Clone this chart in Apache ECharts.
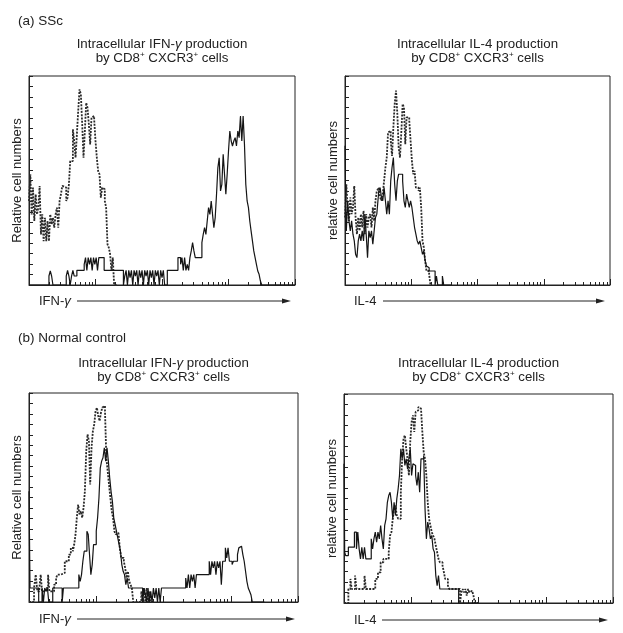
<!DOCTYPE html>
<html><head><meta charset="utf-8">
<script src="https://cdn.jsdelivr.net/npm/echarts@6/dist/echarts.min.js"></script>
<style>html,body{margin:0;padding:0;background:#fff}#c{width:623px;height:633px}</style>
</head><body><div id="c"></div>
<script>
// ---- text ----
const panelLabels = ['(a) SSc', '(b) Normal control'];
const titleIfn = 'Intracellular IFN-{g|γ} production\nby CD8{s|+} CXCR3{s|+} cells';
const titleIl4 = 'Intracellular IL-4 production\nby CD8{s|+} CXCR3{s|+} cells';
const yNames = ['Relative cell numbers', 'relative cell numbers'];
const xNames = ['IFN-{g|γ}', 'IL-4'];

// ---- data: [log10 fluorescence (decades), relative cell number %] ----
const sscIfnControl = [[0,40.2],[0.02,53],[0.04,33.8],[0.06,46.6],[0.08,30.6],[0.10,43.4],[0.12,33.8],[0.14,37],[0.16,47.4],[0.18,24.2],[0.20,33.8],[0.22,21],[0.24,32.2],[0.26,21],[0.28,30.6],[0.30,21],[0.32,33.8],[0.34,29],[0.36,32.2],[0.38,27.4],[0.40,33.8],[0.42,37],[0.44,27.4],[0.46,40.2],[0.48,43.4],[0.50,47.4],[0.53,46.6],[0.56,40.2],[0.58,41.8],[0.60,48.2],[0.62,59.3],[0.64,59.3],[0.66,74.5],[0.68,68.9],[0.70,60.9],[0.72,72.1],[0.74,83.3],[0.76,93.6],[0.78,91.2],[0.80,76.9],[0.82,60.9],[0.84,73.7],[0.86,87.2],[0.88,84.8],[0.90,76.9],[0.92,67.3],[0.94,80.1],[0.96,80.9],[0.98,79.3],[1.00,68.9],[1.02,60.9],[1.04,54.5],[1.06,53],[1.08,41.8],[1.10,46.6],[1.12,45.8],[1.14,40.2],[1.16,37],[1.18,19.5],[1.20,17.9],[1.22,14.7],[1.24,6.7],[1.26,13.1],[1.28,0],[1.32,0]];
const sscIfnSample = [[0,0],[0.30,4.3],[0.32,6.7],[0.34,4.3],[0.36,0],[0.56,4.3],[0.58,7],[0.60,4.3],[0.62,0],[0.64,4.3],[0.66,7],[0.68,4.3],[0.72,7],[0.83,9.9],[0.85,13.1],[0.87,7],[0.89,13.1],[0.91,9.9],[0.93,13.1],[0.95,7],[0.97,13.1],[0.99,9.9],[1.01,13.1],[1.03,7],[1.05,13.1],[1.13,7],[1.42,0],[1.44,4.3],[1.46,7],[1.48,0],[1.50,7],[1.52,3.5],[1.54,7],[1.56,0],[1.58,7],[1.60,4.3],[1.62,7],[1.64,0],[1.66,7],[1.68,3.5],[1.70,7],[1.72,0],[1.74,7],[1.76,4.3],[1.78,7],[1.80,0],[1.82,7],[1.84,3.5],[1.86,7],[1.88,0],[1.90,7],[1.92,4.3],[1.94,7],[1.96,0],[1.98,7],[2.00,3.5],[2.02,7],[2.04,0],[2.08,7],[2.24,13.1],[2.28,9.9],[2.30,13.1],[2.32,7],[2.34,13.1],[2.36,7],[2.38,9.9],[2.40,7],[2.42,13.1],[2.44,16.3],[2.46,20.3],[2.48,16.3],[2.50,13.1],[2.60,20.3],[2.62,24.2],[2.64,27.4],[2.66,24.2],[2.68,30.6],[2.70,37],[2.72,33.8],[2.74,40.2],[2.76,33.8],[2.78,27.4],[2.80,32.2],[2.82,43.4],[2.84,56.1],[2.86,60.9],[2.88,45],[2.90,48.2],[2.92,62.5],[2.94,53],[2.96,43.4],[2.98,53],[3.00,64.1],[3.02,73.7],[3.04,68.9],[3.06,66.5],[3.08,68.9],[3.10,70.5],[3.12,66.5],[3.14,73.7],[3.16,70.5],[3.18,80.9],[3.20,68.9],[3.22,80.9],[3.24,67.3],[3.26,48.2],[3.28,40.2],[3.30,37],[3.32,30.6],[3.34,25.8],[3.36,21.1],[3.38,16.3],[3.40,13.1],[3.42,9.9],[3.44,6.7],[3.46,5.1],[3.48,1.9],[3.50,0],[4,0]];
const sscIl4Control = [[0,32.3],[0.02,48.2],[0.04,37.1],[0.06,30.7],[0.08,41.9],[0.10,33.9],[0.12,37.1],[0.14,47.4],[0.16,32.3],[0.18,24.3],[0.20,32.3],[0.22,25.9],[0.24,33.9],[0.26,27.5],[0.28,35.5],[0.30,24.3],[0.32,33.9],[0.34,27.5],[0.36,32.3],[0.38,33.9],[0.40,27.5],[0.42,37.1],[0.44,30.7],[0.46,40.3],[0.48,45],[0.51,46.6],[0.53,41.9],[0.55,40.3],[0.57,43.5],[0.59,49.8],[0.61,56.2],[0.63,61],[0.65,73],[0.67,73.8],[0.69,69],[0.71,61.8],[0.73,75.4],[0.75,86.6],[0.77,93],[0.79,81.8],[0.81,65.8],[0.83,61],[0.85,73],[0.87,86.6],[0.89,85],[0.91,67.4],[0.93,80.2],[0.95,80.2],[0.97,78.6],[0.99,69],[1.01,59.4],[1.03,53],[1.05,54.6],[1.07,46.6],[1.09,46.6],[1.11,45],[1.13,46.6],[1.15,37.1],[1.17,21.1],[1.19,17.9],[1.21,11.5],[1.23,6.7],[1.25,6.7],[1.27,5.1],[1.29,0],[1.31,0]];
const sscIl4Sample = [[0,66.6],[0.01,37.1],[0.02,25.9],[0.04,40.3],[0.06,30.7],[0.08,25.9],[0.10,30.7],[0.12,24.3],[0.14,21.1],[0.16,14.7],[0.18,13.1],[0.20,21.1],[0.22,24.3],[0.24,21.1],[0.26,25.9],[0.28,21.1],[0.30,33.9],[0.32,24.3],[0.34,13.1],[0.36,25.9],[0.38,22.7],[0.40,25.9],[0.42,19.5],[0.44,25.9],[0.46,32.3],[0.48,33.9],[0.51,45],[0.53,46.6],[0.55,41.9],[0.57,40.3],[0.59,46.6],[0.61,40.3],[0.63,33.9],[0.65,40.3],[0.67,33.9],[0.69,49.8],[0.71,56.2],[0.73,61],[0.75,48.2],[0.77,40.3],[0.79,49.8],[0.81,53],[0.87,49.8],[0.89,40.3],[0.91,37.1],[0.93,43.5],[0.95,40.3],[0.97,37.1],[0.99,40.3],[1.01,37.1],[1.03,32.3],[1.05,27.5],[1.07,24.3],[1.09,21.1],[1.11,19.5],[1.13,21.1],[1.15,17.9],[1.17,14.7],[1.19,16.3],[1.21,11.5],[1.23,9.1],[1.25,8.3],[1.27,6.7],[1.36,0],[1.38,4.3],[1.40,0],[1.47,4.3],[1.49,0],[1.6,0]];
const ncIfnControl = [[0,0],[0.075,6.7],[0.10,13.1],[0.124,5.1],[0.154,6.7],[0.174,13.1],[0.194,5.1],[0.254,6.7],[0.284,13.1],[0.303,5.1],[0.373,8.3],[0.403,11.5],[0.423,13.1],[0.473,13.9],[0.532,19.5],[0.592,22.7],[0.622,25.9],[0.652,24.3],[0.672,27.5],[0.692,32.3],[0.711,40.3],[0.731,46.6],[0.751,41.9],[0.771,43.5],[0.791,40.3],[0.811,45],[0.831,53],[0.851,72.2],[0.871,80.2],[0.891,77],[0.910,56.2],[0.930,73.8],[0.950,81.8],[0.970,85],[0.990,91.4],[1.01,93],[1.03,89],[1.05,86.6],[1.07,90.6],[1.09,93],[1.11,93.8],[1.13,91.4],[1.15,69],[1.17,62.6],[1.19,56.2],[1.21,49.8],[1.23,43.5],[1.25,40.3],[1.27,33.9],[1.29,32.3],[1.31,33.1],[1.33,32.3],[1.35,25.9],[1.37,21.1],[1.39,21.1],[1.41,19.5],[1.43,16.3],[1.45,11.5],[1.47,14.7],[1.49,9.9],[1.51,8.3],[1.53,6.7],[1.55,0],[1.67,5.1],[1.69,0],[1.71,6.7],[1.73,0],[1.75,6.7],[1.77,0],[1.79,5.1],[1.81,0],[1.85,0]];
const ncIfnSample = [[0,53],[0.015,6.7],[0.144,0],[0.194,6.7],[0.214,0],[0.234,6.7],[0.254,5.1],[0.274,6.7],[0.294,0],[0.353,6.7],[0.493,0],[0.512,6.7],[0.741,13.1],[0.761,9.9],[0.781,13.1],[0.801,19.5],[0.821,24.3],[0.861,33.9],[0.881,32.3],[0.900,22.7],[0.920,13.1],[0.940,17.9],[0.960,27.5],[1.00,33.9],[1.02,40.3],[1.04,49.8],[1.06,64.2],[1.08,67.4],[1.10,69],[1.12,73.8],[1.14,67.4],[1.16,73.8],[1.18,67.4],[1.20,59.4],[1.22,53],[1.24,48.2],[1.26,40.3],[1.28,37.1],[1.30,33.9],[1.32,30.7],[1.34,27.5],[1.36,24.3],[1.38,17.9],[1.40,14.7],[1.42,13.1],[1.44,8.3],[1.46,11.5],[1.48,6.7],[1.69,0],[1.71,6.7],[1.73,3.5],[1.75,0],[1.77,6.7],[1.79,0],[1.81,5.1],[1.83,0],[1.85,6.7],[1.87,1.9],[1.89,6.7],[1.91,0],[1.93,6.7],[1.95,0],[1.97,6.7],[2.33,11.5],[2.35,6.7],[2.37,13.1],[2.39,6.7],[2.41,13.1],[2.43,9.9],[2.45,13.1],[2.47,6.7],[2.49,13.1],[2.68,19.5],[2.70,13.1],[2.72,19.5],[2.74,16.3],[2.76,19.5],[2.78,13.1],[2.80,19.5],[2.82,16.3],[2.84,19.5],[2.86,8.3],[2.88,19.5],[2.92,25.9],[2.94,21.1],[2.96,25.9],[2.98,19.5],[3.02,17.9],[3.04,19.5],[3.10,22.7],[3.12,25.9],[3.14,26.7],[3.16,25.9],[3.18,22.7],[3.20,19.5],[3.22,14.7],[3.24,9.9],[3.26,6.7],[3.28,5.1],[3.30,3.5],[3.32,0],[3.5,0]];
const ncIl4Control = [[0,0],[0.065,6.7],[0.095,11.5],[0.115,6.7],[0.165,13.1],[0.185,6.7],[0.305,13.1],[0.325,6.7],[0.465,11.5],[0.505,14.7],[0.545,19.5],[0.585,21.1],[0.665,24.3],[0.685,32.3],[0.705,33.9],[0.725,40.3],[0.745,45],[0.765,46.6],[0.785,41.9],[0.805,40.3],[0.845,53],[0.865,69],[0.885,78.6],[0.905,80.2],[0.925,73.8],[0.945,69],[0.965,61],[0.985,77],[1.005,86.6],[1.025,89.8],[1.045,81.8],[1.065,91.4],[1.085,92.2],[1.105,93.8],[1.125,93],[1.145,93.8],[1.165,81.8],[1.185,72.2],[1.205,69],[1.225,61],[1.245,48.2],[1.265,40.3],[1.285,37.1],[1.305,33.9],[1.325,32.3],[1.345,30.7],[1.365,27.5],[1.385,24.3],[1.405,21.1],[1.425,19.5],[1.465,17.9],[1.485,14.7],[1.505,11.5],[1.545,8.3],[1.565,6.7],[1.725,0],[1.745,5.1],[1.765,6.7],[1.785,5.1],[1.805,6.7],[1.825,3.5],[1.845,6.7],[1.865,5.1],[1.885,5.9],[1.905,5.1],[1.925,3.5],[1.945,0],[2.0,0]];
const ncIl4Sample = [[0,66.6],[0.01,24.3],[0.025,22.7],[0.065,26.7],[0.155,33.9],[0.185,25.9],[0.205,33.9],[0.225,25.9],[0.245,21.1],[0.265,26.7],[0.285,21.1],[0.305,26.7],[0.325,21.1],[0.405,30.7],[0.425,25.9],[0.445,30.7],[0.465,33.9],[0.485,29.1],[0.505,33.9],[0.525,30.7],[0.545,37.1],[0.565,30.7],[0.585,25.9],[0.605,37.1],[0.625,40.3],[0.645,48.2],[0.665,51.4],[0.685,53],[0.705,48.2],[0.725,40.3],[0.745,48.2],[0.765,41.9],[0.785,49.8],[0.805,54.6],[0.825,61],[0.845,73.8],[0.865,69],[0.885,73.8],[0.905,65.8],[0.925,69],[0.945,64.2],[0.965,69],[0.985,73.8],[1.005,61],[1.025,66.6],[1.045,65.8],[1.065,61],[1.085,56.2],[1.105,62.6],[1.125,53],[1.145,69],[1.185,70.6],[1.205,45],[1.225,30.7],[1.245,38.7],[1.265,35.5],[1.285,30.7],[1.305,32.3],[1.325,25.9],[1.345,24.3],[1.365,13.1],[1.385,8.3],[1.405,13.1],[1.425,6.7],[1.705,0],[2,0]];

// ---- layout ----
const FONT = "'Liberation Sans', Arial, Helvetica, sans-serif";
const INK = '#222';
const panels = [
  {rect:{left:29, top:76, width:266, height:209}, title:titleIfn, yName:yNames[0], xName:xNames[0], control:sscIfnControl, sample:sscIfnSample, xl:{x:39,y:301}, arrow:[77,291,301]},
  {rect:{left:345, top:76, width:265, height:209}, title:titleIl4, yName:yNames[1], xName:xNames[1], control:sscIl4Control, sample:sscIl4Sample, xl:{x:354,y:301}, arrow:[383,605,301]},
  {rect:{left:29, top:393, width:269, height:209}, title:titleIfn, yName:yNames[0], xName:xNames[0], control:ncIfnControl, sample:ncIfnSample, xl:{x:39,y:619}, arrow:[77,295,619]},
  {rect:{left:344, top:394, width:269, height:209}, title:titleIl4, yName:yNames[1], xName:xNames[1], control:ncIl4Control, sample:ncIl4Sample, xl:{x:354,y:620}, arrow:[382,608,620]}
];
const titleTops = [37, 37, 356, 356];

// log-decade minor tick positions (1..9 x 10^d)
const logTicks = [];
for (let d = 0; d < 4; d++) for (let k = 1; k < 10; k++) logTicks.push(d + Math.log10(k));
logTicks.push(4);

const rich = {
  g: {fontStyle:'italic', fontSize:13.3, fontFamily:FONT, fill:INK, color:INK},
  s: {fontSize:8, fontFamily:FONT, verticalAlign:'top', lineHeight:7, fill:INK, color:INK}
};

const grid = [], xAxis = [], yAxis = [], series = [], graphic = [];
panels.forEach((p, i) => {
  grid.push(Object.assign({show:true, borderColor:INK, borderWidth:1, backgroundColor:'transparent'}, p.rect));
  grid.push(Object.assign({show:false}, p.rect));
  // minor (log) ticks
  xAxis.push({type:'value', gridIndex:2*i, min:0, max:4, position:'bottom',
    axisLine:{show:true, lineStyle:{color:INK, width:1}},
    axisTick:{show:true, inside:true, length:3, customValues:logTicks, lineStyle:{color:INK, width:1}},
    axisLabel:{show:false}, splitLine:{show:false}});
  // decade ticks
  xAxis.push({type:'value', gridIndex:2*i+1, min:0, max:4, interval:1, position:'bottom',
    axisLine:{show:false}, axisTick:{show:true, inside:true, length:6, lineStyle:{color:INK, width:1}},
    axisLabel:{show:false}, splitLine:{show:false}});
  yAxis.push({type:'value', gridIndex:2*i, min:0, max:100, interval:5,
    name:p.yName, nameLocation:'middle', nameGap:5,
    nameTextStyle:{fontSize:13, color:INK, fontFamily:FONT},
    axisLine:{show:true, lineStyle:{color:INK, width:1}},
    axisTick:{show:true, inside:true, length:4, lineStyle:{color:INK, width:1}},
    axisLabel:{show:false}, splitLine:{show:false}});
  yAxis.push({type:'value', gridIndex:2*i+1, min:0, max:100, show:false});
  series.push({type:'line', xAxisIndex:2*i, yAxisIndex:2*i, data:p.control, step:'end', symbol:'none',
    lineStyle:{color:'#2a2a2a', width:1.8, type:[2,1.3]}, z:2, silent:true, animation:false});
  series.push({type:'line', xAxisIndex:2*i, yAxisIndex:2*i, data:p.sample, step:'end', symbol:'none',
    lineStyle:{color:'#151515', width:1.2}, z:3, silent:true, animation:false});
  const cx = p.rect.left + p.rect.width / 2;
  graphic.push({type:'text', x:cx, y:titleTops[i], silent:true, style:{text:p.title, align:'center', verticalAlign:'top',
    fontSize:13.3, fontFamily:FONT, fill:INK, lineHeight:14, rich:rich}});
  graphic.push({type:'text', x:p.xl.x, y:p.xl.y, silent:true, style:{text:p.xName, align:'left', verticalAlign:'middle',
    fontSize:13, fontFamily:FONT, fill:INK, rich:rich}});
  const [x1, x2, ay] = p.arrow;
  graphic.push({type:'line', silent:true, shape:{x1:x1, y1:ay, x2:x2-8, y2:ay}, style:{stroke:INK, lineWidth:1}});
  graphic.push({type:'polygon', silent:true, shape:{points:[[x2-9, ay-2.5],[x2, ay],[x2-9, ay+2.5]]}, style:{fill:INK}});
});
graphic.push({type:'text', x:18, y:21, silent:true, style:{text:panelLabels[0], verticalAlign:'middle', fontSize:13.5, fontFamily:FONT, fill:INK}});
graphic.push({type:'text', x:18, y:338, silent:true, style:{text:panelLabels[1], verticalAlign:'middle', fontSize:13.5, fontFamily:FONT, fill:INK}});

const chart = echarts.init(document.getElementById('c'));
chart.setOption({backgroundColor:'#fff', animation:false, grid, xAxis, yAxis, series, graphic});
</script></body></html>
